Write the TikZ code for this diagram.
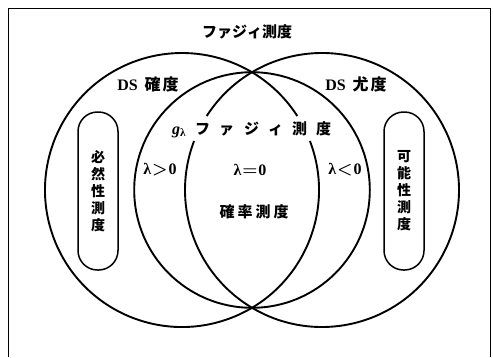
\documentclass[tikz,border=0pt]{standalone}
\usepackage{fontspec}
\setmainfont{Liberation Serif}
\newfontfamily\jp{Noto Sans CJK JP}
\begin{document}
\begin{tikzpicture}[x=1pt,y=-1pt,
  ring/.style={line width=1.9pt},
  frame/.style={line width=1pt},
  pill/.style={draw, line width=1.5pt, rounded corners=19.5pt, minimum width=40pt, minimum height=158pt, inner sep=0pt},
  lbl/.style={font=\fontsize{16}{18}\selectfont\bfseries, inner sep=0pt},
  lam/.style={font=\fontsize{16}{18}\selectfont\bfseries\boldmath, inner sep=0pt},
  vlbl/.style={font=\jp\fontsize{14}{17}\selectfont\bfseries, align=center, inner sep=0pt}]
\useasboundingbox (0,0) rectangle (493,357);
% frame (bottom edge is not shown)
\draw[frame] (8,357) -- (8,8) -- (490,8) -- (490,357);
% circle centres
\coordinate (cL) at (182,190);
\coordinate (cR) at (322,190);
\coordinate (cM) at (252,190);
% middle circle (g_lambda)
\draw[ring] (cM) circle (117.8);
% left circle (DS belief) with gap for the text line
\draw[ring] ([shift={(-20.96:137)}]cL) arc (-20.96:327.3:137);
% right circle (DS plausibility) with gap for the text line
\draw[ring] ([shift={(212.7:137)}]cR) arc (212.7:560.96:137);
% pills
\node[pill] (nec) at (98,191) {};
\node[pill] (pos) at (404,191) {};
\node[vlbl] (nect) at (98,191) {必\\然\\性\\測\\度};
\node[vlbl] (post) at (404,191) {可\\能\\性\\測\\度};
% labels
\node[lbl, font=\jp\fontsize{15}{17}\selectfont\bfseries] (title) at (247,32) {ファジィ測度};
\node[lbl] (dsb) at (148,84) {DS\hspace{7pt}{\jp\fontsize{16}{18}\selectfont 確\hspace{2pt}度}};
\node[lbl] (dsp) at (356,84) {DS\hspace{7pt}{\jp\fontsize{16}{18}\selectfont 尤\hspace{2pt}度}};
\node[lam, anchor=base west] (glam) at (172,134) {\textit{g}\textsubscript{λ}\hspace{9pt}{\jp\fontsize{15}{17}\selectfont フ\hspace{9pt}ァ\hspace{10pt}ジ\hspace{9pt}ィ\hspace{9pt}測\hspace{9pt}度}};
\node[lam] (lp) at (160,170) {λ\kern1pt$>$\kern1pt0};
\node[lam] (lz) at (250,170) {λ\kern1pt$=$\kern1pt0};
\node[lam] (ln) at (345,170) {λ\kern1pt$<$\kern1pt0};
\node[lbl] (prob) at (254,212) {\jp\fontsize{15}{17}\selectfont 確\hspace{3pt}率\hspace{3pt}測\hspace{3pt}度};
\end{tikzpicture}
\end{document}
